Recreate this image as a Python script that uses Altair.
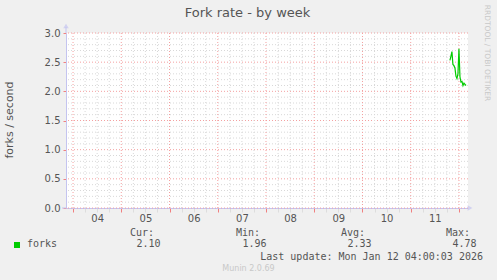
import altair as alt
import pandas as pd

# Fork rate samples (30-minute averages), forks per second
times = [
    "2026-01-11 19:30", "2026-01-11 20:00", "2026-01-11 20:30", "2026-01-11 21:00",
    "2026-01-11 21:30", "2026-01-11 22:00", "2026-01-11 22:30", "2026-01-11 23:00",
    "2026-01-11 23:30", "2026-01-12 00:00", "2026-01-12 00:30", "2026-01-12 01:00",
    "2026-01-12 01:30", "2026-01-12 02:00", "2026-01-12 02:30", "2026-01-12 03:00",
    "2026-01-12 03:30",
]
forks = [2.53, 2.60, 2.68, 2.46, 2.44, 2.40, 2.26, 2.22, 2.30, 2.73,
         2.25, 2.16, 2.17, 2.10, 2.14, 2.12, 2.10]

# Summary figures shown under the graph
stat_labels = ["Cur:", "Min:", "Avg:", "Max:"]
stat_values = ["2.10", "1.96", "2.33", "4.78"]

y_ticks = [0.0, 0.5, 1.0, 1.5, 2.0, 2.5, 3.0]
y_minor = [round(i / 10, 1) for i in range(31)]

grid_times = pd.date_range("2026-01-04 00:00", "2026-01-12 00:00", freq="6h")

W, H = 402, 175
MONO = "DejaVu Sans Mono"
SANS = "DejaVu Sans"
RED = "#f4a0a0"
GREY = "#d8d8d8"
AXIS_BLUE = "#c4c4f0"

data = pd.DataFrame({"time": pd.to_datetime(times), "forks": forks})
hgrid = pd.DataFrame({"v": y_minor, "major": [abs(v * 2 - round(v * 2)) < 1e-9 for v in y_minor]})
vgrid = pd.DataFrame({"t": grid_times, "major": [t.hour == 0 for t in grid_times]})

x_scale = alt.Scale(domain=[alt.DateTime(year=2026, month=1, date=3, hours=20, minutes=30),
                            alt.DateTime(year=2026, month=1, date=12, hours=4, minutes=30)],
                    nice=False)
y_scale = alt.Scale(domain=[0, 3], nice=False)

x_axis = alt.Axis(
    values=[alt.DateTime(year=t.year, month=t.month, date=t.day, hours=t.hour) for t in grid_times],
    labelExpr="hours(datum.value) == 12 ? timeFormat(datum.value, '%d') : ''",
    grid=False, domain=True, domainColor=AXIS_BLUE, domainWidth=1,
    tickColor={"condition": {"test": "hours(datum.value) == 0", "value": "#f08080"}, "value": "#dddddd"},
    tickSize=4, labelFont=SANS, labelFontSize=10, labelColor="#555555",
    labelPadding=1, title=None, labelFlush=False, labelOverlap=False, labelBound=False,
)
y_axis = alt.Axis(
    values=y_ticks, format=".1f", grid=False, domain=True, domainColor=AXIS_BLUE,
    tickColor="#f08080", tickSize=3, labelFont=SANS, labelFontSize=10,
    labelColor="#555555", labelPadding=3, title=None, labelOverlap=False,
    labelFlush=False, labelBound=False,
)

h_lines = alt.Chart(hgrid).mark_rule(strokeDash=[1, 2], strokeWidth=1).encode(
    y=alt.Y("v:Q", scale=y_scale, axis=y_axis),
    color=alt.Color("major:N", scale=alt.Scale(domain=[True, False], range=[RED, GREY]), legend=None),
)
v_lines = alt.Chart(vgrid).mark_rule(strokeDash=[1, 2], strokeWidth=1).encode(
    x=alt.X("t:T", scale=x_scale, axis=x_axis),
    color=alt.Color("major:N", scale=alt.Scale(domain=[True, False], range=[RED, GREY]), legend=None),
)
series = alt.Chart(data).mark_line(color="#00cc00", strokeWidth=1.2).encode(
    x=alt.X("time:T", scale=x_scale, axis=x_axis),
    y=alt.Y("forks:Q", scale=y_scale, axis=y_axis),
)

one = pd.DataFrame({"k": [0]})
base = alt.Chart(one)

# Arrow heads on the axes
y_ext = base.mark_rule(color=AXIS_BLUE).encode(x=alt.value(0), y=alt.value(-6), y2=alt.value(0))
x_ext = base.mark_rule(color=AXIS_BLUE).encode(x=alt.value(-4), x2=alt.value(0), y=alt.value(H))
up_arrow = base.mark_point(shape="triangle-up", filled=True, color=AXIS_BLUE, size=30).encode(
    x=alt.value(0), y=alt.value(-7))
right_arrow = base.mark_point(shape="triangle-right", filled=True, color=AXIS_BLUE, size=30).encode(
    x=alt.value(W + 2), y=alt.value(H))


def label(text, x, y, font=SANS, size=10, color="#555555", align="left", angle=0):
    return base.mark_text(text=text, font=font, fontSize=size, color=color, align=align,
                          baseline="middle", angle=angle).encode(x=alt.value(x), y=alt.value(y))


texts = [
    label("Fork rate - by week", 181.5, -20, size=13, align="center"),
    label("forks / second", -56, 87, size=11, align="center", angle=270),
    label("RRDTOOL / TOBI OETIKER", 421, 20, size=7.5, color="#c8c8c8", align="center", angle=90),
    label("forks", -39, 211, font=MONO),
    label("Last update: Mon Jan 12 04:00:03 2026", 417, 224, font=MONO, align="right"),
    label("Munin 2.0.69", 182.5, 236, size=8, color="#c8c8c8", align="center"),
]
stat_right = [88, 194, 299, 404]
for lab, val, xr in zip(stat_labels, stat_values, stat_right):
    texts.append(label(lab, xr, 200, font=MONO, align="right"))
    texts.append(label(val, xr + 6.5, 211, font=MONO, align="right"))

legend_box = base.mark_square(color="#00cc00", size=36, opacity=1).encode(
    x=alt.value(-49), y=alt.value(212))

chart = alt.layer(
    h_lines, v_lines, series, y_ext, x_ext, up_arrow, right_arrow, legend_box, *texts
).properties(
    width=W, height=H,
    padding={"left": 66, "top": 33, "right": 29, "bottom": 72},
    autosize=alt.AutoSizeParams(type="none"),
    background="#f0f0f0",
).configure_view(stroke=None, fill="white")

chart.save("out.html", embed_options={"renderer": "svg", "actions": False})
